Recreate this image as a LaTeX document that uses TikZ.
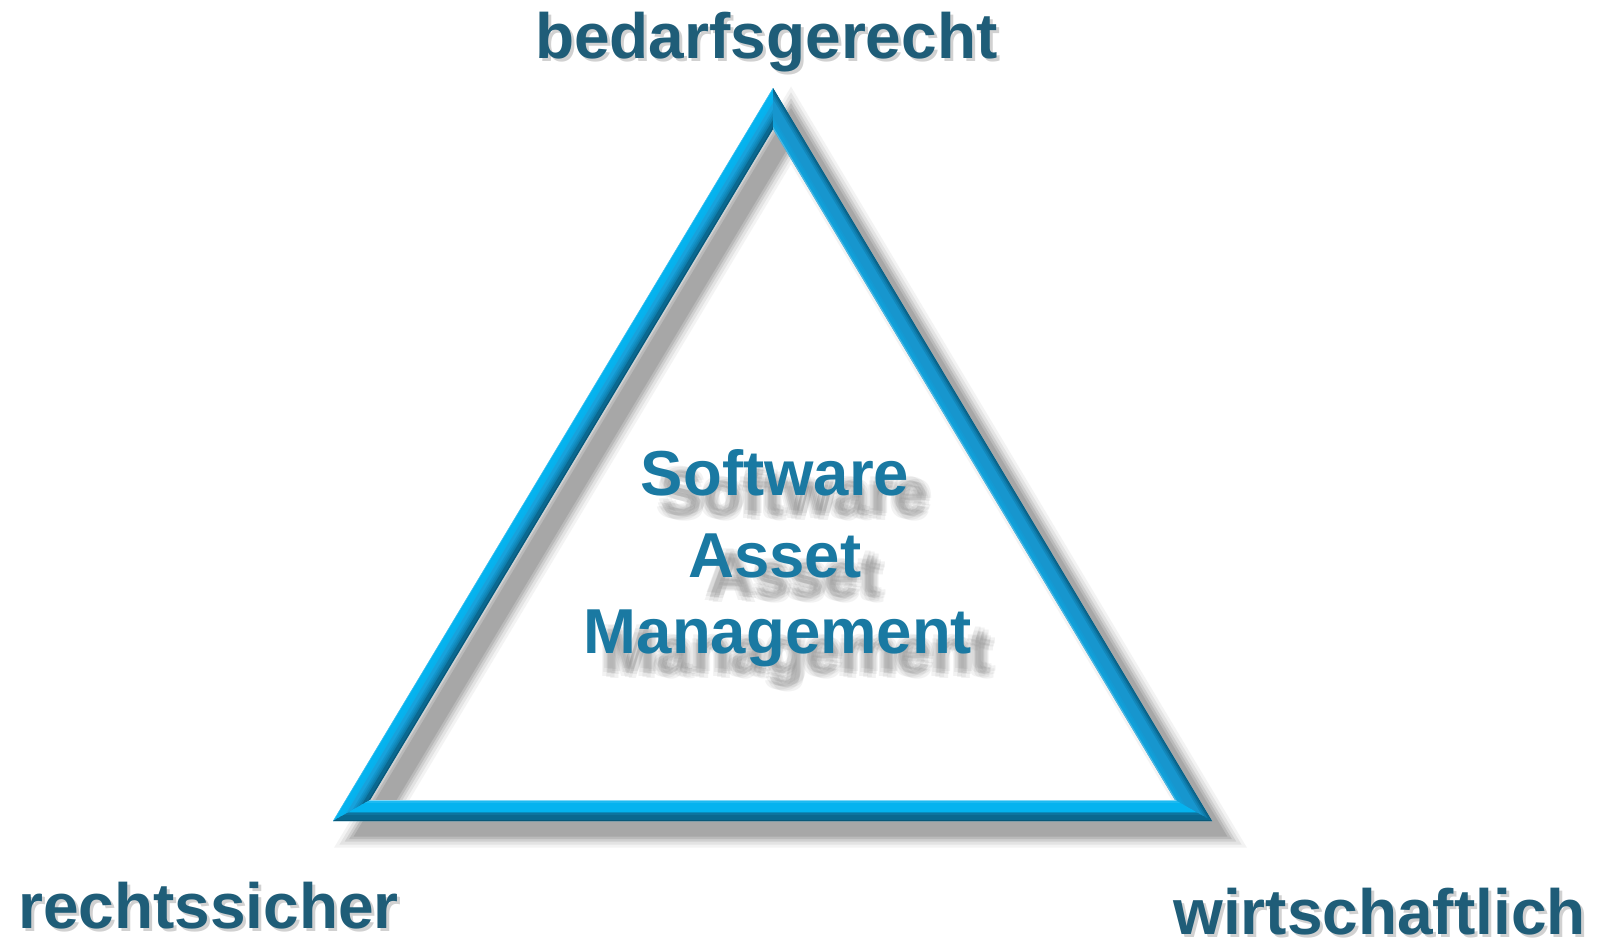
\documentclass[tikz,border=0pt]{standalone}
\usepackage{fontspec}
\setmainfont{Liberation Sans}
\usetikzlibrary{calc}
\definecolor{labelc}{HTML}{1F5D78}
\definecolor{samc}{HTML}{1A79A2}
\definecolor{triL}{HTML}{7FD8F8}
\definecolor{triB}{HTML}{05B3EF}
\definecolor{triC}{HTML}{17A2DC}
\definecolor{triR}{HTML}{1796CE}
\definecolor{triD}{HTML}{0A6890}
\definecolor{triDD}{HTML}{0A5878}
\definecolor{shadowc}{HTML}{707070}
\begin{document}
\begin{tikzpicture}[x=1pt,y=-1pt,
  lbl/.style={inner sep=0pt, text=labelc, font=\fontsize{64}{70}\selectfont\bfseries},
  lblsh/.style={inner sep=0pt, text=black, opacity=0.18, font=\fontsize{64}{70}\selectfont\bfseries},
  sam/.style={inner sep=0pt, anchor=base, text=samc, font=\fontsize{63.5}{70}\selectfont\bfseries},
  samsh/.style={inner sep=0pt, anchor=base, text=shadowc, opacity=0.09, font=\fontsize{63.5}{70}\selectfont\bfseries},
  stripe/.style={line width=2.4pt, shorten <=-8pt, shorten >=-8pt},
  trishadow/.style={shadowc, line join=miter}]
\useasboundingbox (0,0) rectangle (1600,943);
\fill[white] (0,0) rectangle (1600,943);

% triangle geometry (outer and inner vertices)
\coordinate (A) at (773,88);
\coordinate (B) at (333,821);
\coordinate (C) at (1212,821);
\coordinate (a) at (773,129);
\coordinate (b) at (370,800);
\coordinate (c) at (1175,800);

% shadow of the triangle
\foreach \w/\o in {40/0.08,34/0.12,28/0.17,23/0.22,18/0.25}{
  \draw[trishadow, opacity=\o, line width=\w pt]
    ($(A)!0.5!(a)+(18,17)$) -- ($(B)!0.5!(b)+(18,17)$) -- ($(C)!0.5!(c)+(18,17)$) -- cycle;
}

% base ring
\fill[triC, even odd rule] (A) -- (B) -- (C) -- cycle (a) -- (b) -- (c) -- cycle;

% left edge: outer bright, inner dark
\begin{scope}
  \clip (B) -- (A) -- (a) -- (b) -- cycle;
  \foreach \f/\col in {0/triB!70!white, 0.083/triB, 0.167/triB, 0.25/triB, 0.333/triB!80!triC,
     0.417/triC, 0.5/triC, 0.583/triC!80!triD, 0.667/triC!60!triD, 0.75/triC!40!triD,
     0.833/triD, 0.917/triD, 1/triDD}{
    \draw[stripe, color=\col] ($(B)!\f!(b)$) -- ($(A)!\f!(a)$);
  }
\end{scope}

% right edge: outer dark, inner medium
\begin{scope}
  \clip (A) -- (C) -- (c) -- (a) -- cycle;
  \foreach \f/\col in {0/triDD, 0.083/triD, 0.167/triD!60!triR, 0.25/triD!30!triR, 0.333/triR,
     0.417/triR, 0.5/triR, 0.583/triR, 0.667/triR, 0.75/triR!85!triB,
     0.833/triR!70!triB, 0.917/triR!60!triB, 1/triR!50!triL}{
    \draw[stripe, color=\col] ($(A)!\f!(a)$) -- ($(C)!\f!(c)$);
  }
\end{scope}

% bottom edge: bottom dark, top bright
\begin{scope}
  \clip (C) -- (B) -- (b) -- (c) -- cycle;
  \foreach \f/\col in {0/triDD, 0.083/triD, 0.167/triD, 0.25/triD, 0.333/triD!80!triC,
     0.417/triD!50!triB, 0.5/triB, 0.583/triB, 0.667/triB, 0.75/triB,
     0.833/triB, 0.917/triB!80!triL, 1/triL}{
    \draw[stripe, color=\col] ($(C)!\f!(c)$) -- ($(B)!\f!(b)$);
  }
\end{scope}

% corner labels
\node[lblsh, anchor=base west] (ltsh) at (538,61) {bedarfsgerecht};
\node[lbl, anchor=base west] (lt) at (535,58) {bedarfsgerecht};
\node[lblsh, anchor=base west] (llsh) at (21,931) {rechtssicher};
\node[lbl, anchor=base west] (ll) at (18,928) {rechtssicher};
\node[lblsh, anchor=base west] (lrsh) at (1176,937) {wirtschaftlich};
\node[lbl, anchor=base west] (lr) at (1173,934) {wirtschaftlich};

% centre text shadow (blurred)
\foreach \dx/\dy in {20/20,16/19,24/21,19/24,21/16,23/25,17/15,25/18,15/23,20/20}{
  \node[samsh] at (775+\dx,495+\dy) {Software};
  \node[samsh] at (775+\dx,577+\dy) {Asset};
  \node[samsh] at (778+\dx,653+\dy) {Management};
}
% centre text
\node[sam] (s1) at (775,495) {Software};
\node[sam] (s2) at (775,577) {Asset};
\node[sam] (s3) at (778,653) {Management};
\end{tikzpicture}
\end{document}
